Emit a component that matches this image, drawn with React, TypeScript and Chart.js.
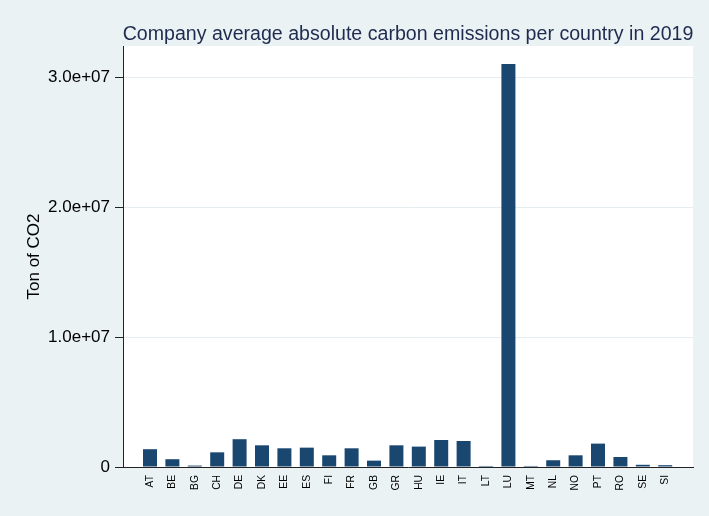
import React, { useEffect, useRef } from "react";
import { Chart, registerables } from "chart.js";

Chart.register(...registerables);

const countries = ["AT","BE","BG","CH","DE","DK","EE","ES","FI","FR","GB","GR","HU","IE","IT","LT","LU","MT","NL","NO","PT","RO","SE","SI"];
const emissions = [1370000,600000,110000,1130000,2140000,1670000,1440000,1490000,900000,1440000,490000,1670000,1570000,2080000,2000000,80000,31020000,80000,520000,900000,1800000,770000,170000,140000];
const yTicks = [0, 10000000, 20000000, 30000000];
const titleText = "Company average absolute carbon emissions per country in 2019";
const yTitleText = "Ton of CO2";

const BG = "#EAF2F3";
const FONT = "'Liberation Sans', Arial, Helvetica, sans-serif";

export default function App() {
  const ref = useRef<HTMLCanvasElement | null>(null);
  useEffect(() => {
    document.body.style.margin = "0";
    const canvas = ref.current!;
    const bgPlugin = {
      id: "bgPlugin",
      beforeDraw(chart: any) {
        const { ctx, chartArea } = chart;
        ctx.save();
        ctx.fillStyle = BG;
        ctx.fillRect(0, 0, chart.width, chart.height);
        ctx.fillStyle = "#ffffff";
        ctx.fillRect(chartArea.left, chartArea.top, chartArea.right - chartArea.left, chartArea.bottom - chartArea.top);
        ctx.restore();
      },
      afterDraw(chart: any) {
        const { ctx, chartArea } = chart;
        ctx.save();
        ctx.fillStyle = "#1e2b50";
        ctx.font = `19.6px ${FONT}`;
        ctx.textAlign = "center";
        ctx.textBaseline = "alphabetic";
        ctx.fillText(titleText, (chartArea.left + chartArea.right) / 2, 40);
        ctx.fillStyle = "#000000";
        ctx.font = `17px ${FONT}`;
        ctx.translate(34, (chartArea.top + chartArea.bottom) / 2);
        ctx.rotate(-Math.PI / 2);
        ctx.textBaseline = "middle";
        ctx.fillText(yTitleText, 0, 0);
        ctx.restore();
      },
    };
    const chart = new Chart(canvas, {
      type: "bar",
      data: {
        datasets: [
          {
            data: emissions.map((v, i) => ({ x: i, y: v })),
            backgroundColor: "#1a476f",
            borderWidth: 0,
            categoryPercentage: 1,
            barPercentage: 0.625,
          },
        ],
      },
      options: {
        animation: false,
        responsive: false,
        events: [],
        layout: { padding: { top: 46, right: 16, left: 0, bottom: 0 } },
        plugins: { legend: { display: false }, tooltip: { enabled: false }, title: { display: false } },
        scales: {
          x: {
            type: "linear",
            min: -1.205,
            max: 24.24,
            offset: false,
            grid: { display: false, drawTicks: false },
            border: { display: true, color: "#222222", width: 1 },
            afterBuildTicks: (scale: any) => {
              scale.ticks = countries.map((_, i) => ({ value: i }));
            },
            afterFit: (scale: any) => {
              scale.height = 49;
            },
            ticks: {
              autoSkip: false,
              minRotation: 90,
              maxRotation: 90,
              padding: 8,
              color: "#000000",
              font: { family: FONT, size: 10.3 },
              callback: (v: any) => countries[v] ?? "",
            },
          },
          y: {
            min: 0,
            max: 32410000,
            afterBuildTicks: (scale: any) => {
              scale.ticks = yTicks.map((v) => ({ value: v }));
            },
            afterFit: (scale: any) => {
              scale.width = 123;
            },
            grid: { color: "#E4EDEF", tickColor: "#222222", tickLength: 8, drawTicks: true, lineWidth: 1 },
            border: { display: true, color: "#222222", width: 1 },
            ticks: {
              padding: 5,
              color: "#000000",
              font: { family: FONT, size: 17 },
              callback: (v: any) => (v === 0 ? "0" : Number(v).toExponential(1).replace(/e\+(\d)$/, "e+0$1")),
            },
          },
        },
      },
      plugins: [bgPlugin],
    });
    return () => chart.destroy();
  }, []);
  return (
    <div style={{ position: "absolute", left: 0, top: 0 }}>
      <canvas ref={ref} width={709} height={516} style={{ display: "block", width: 709, height: 516 }} />
    </div>
  );
}
